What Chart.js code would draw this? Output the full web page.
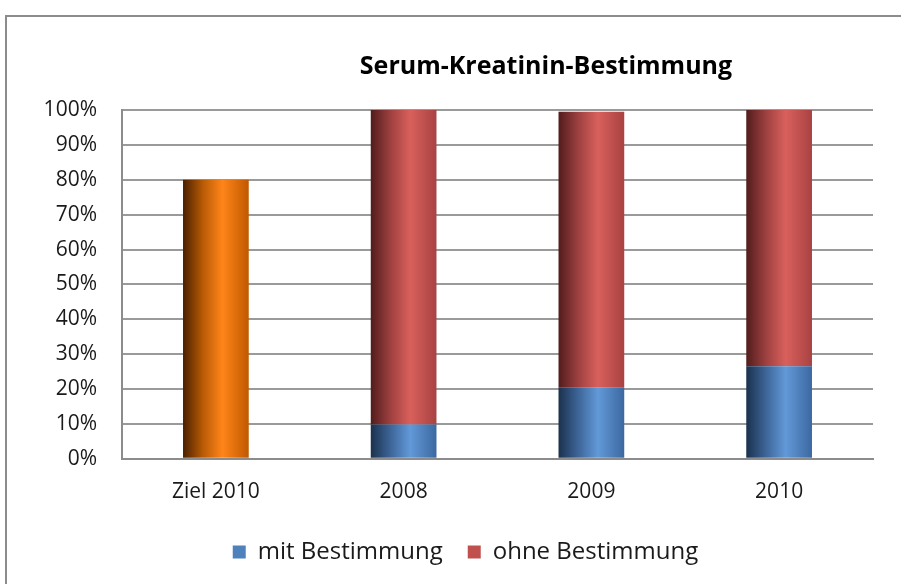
<!DOCTYPE html>
<html>
<head>
<meta charset="utf-8">
<script src="https://cdn.jsdelivr.net/npm/chart.js@4"></script>
<style>
    html, body { margin: 0; padding: 0; background: #fff; overflow: hidden; }
    #frame {
        position: absolute; left: 5px; top: 15px; width: 1000px; height: 700px;
        border-top: 2px solid #8c8c8c; border-left: 2px solid #8c8c8c;
    }
    #wrap { position: absolute; left: 0; top: 0; width: 901px; height: 584px; }
</style>
</head>
<body>
<div id="frame"></div>
<div id="wrap"><canvas id="chart" width="901" height="584"></canvas></div>
<script>
// Chart data
const categories = ["Ziel 2010", "2008", "2009", "2010"];
const zielValues = [80, null, null, null];
const mitValues = [null, 9.8, 20.5, 26.5];
const ohneValues = [null, 90.2, 79.0, 73.5];
const seriesNames = ["Ziel", "mit Bestimmung", "ohne Bestimmung"];
const legendColors = ["#f79646", "#4f81bd", "#c0504d"];

const chartTitle = "Serum-Kreatinin-Bestimmung";
const fontFamily = "'Open Sans', Lato, sans-serif";
const barShare = 0.35;

// horizontal shading like the office cylinder look
function barGradient(stops) {
    return function (c) {
        const chart = c.chart;
        const xs = chart.scales.x;
        if (c.type !== "data" || !xs) return stops[2];
        const w = (xs.right - xs.left) / categories.length * barShare;
        const cx = xs.getPixelForValue(c.dataIndex);
        if (!isFinite(w) || !isFinite(cx) || w <= 0) return stops[2];
        const g = chart.ctx.createLinearGradient(cx - w / 2, 0, cx + w / 2, 0);
        g.addColorStop(0, stops[0]);
        g.addColorStop(0.3, stops[1]);
        g.addColorStop(0.6, stops[2]);
        g.addColorStop(1, stops[3]);
        return g;
    };
}

// Title drawn a bit right of centre, like the original
const titlePlugin = {
    id: "offsetTitle",
    afterDraw(chart) {
        const ctx = chart.ctx;
        ctx.save();
        ctx.font = "bold 25px " + fontFamily;
        ctx.fillStyle = "#000";
        ctx.textAlign = "center";
        ctx.textBaseline = "middle";
        ctx.fillText(chartTitle, 546, 67);
        ctx.restore();
    }
};

const ctx = document.getElementById("chart");
new Chart(ctx, {
    type: "bar",
    data: {
        labels: categories,
        datasets: [
            {
                label: seriesNames[0],
                data: zielValues,
                backgroundColor: barGradient(["#4a2000", "#b85a06", "#ff8519", "#c05800"])
            },
            {
                label: seriesNames[1],
                data: mitValues,
                backgroundColor: barGradient(["#1b314d", "#3d6598", "#6299d8", "#3c68a0"])
            },
            {
                label: seriesNames[2],
                data: ohneValues,
                backgroundColor: barGradient(["#521c1c", "#9e4040", "#d9605c", "#a84242"])
            }
        ]
    },
    options: {
        responsive: false,
        animation: false,
        layout: { padding: { left: 30, right: 0, top: 110, bottom: 10 } },
        datasets: {
            bar: { categoryPercentage: barShare, barPercentage: 1, borderWidth: 0 }
        },
        scales: {
            x: {
                stacked: true,
                afterFit: (s) => { s.height -= 3; },
                grid: { display: false },
                border: { display: true, color: "#8c8c8c", width: 2 },
                ticks: { color: "#1a1a1a", font: { family: fontFamily, size: 21 }, padding: 13 }
            },
            y: {
                stacked: true,
                min: 0,
                max: 100,
                afterFit: (s) => { s.width = 92; },
                grid: { color: "#9a9a9a", lineWidth: 2, drawTicks: false },
                border: { display: true, color: "#8c8c8c", width: 2 },
                ticks: {
                    stepSize: 10,
                    padding: 25,
                    color: "#1a1a1a",
                    font: { family: fontFamily, size: 21 },
                    callback: (v) => v + "%"
                }
            },
            // spacer on the right so the plot ends where the original does
            yRight: {
                position: "right",
                display: true,
                afterFit: (s) => { s.width = 28; },
                grid: { display: false },
                border: { display: false },
                ticks: { display: false }
            }
        },
        plugins: {
            title: { display: false },
            tooltip: { enabled: false },
            legend: {
                position: "bottom",
                labels: {
                    boxWidth: 13,
                    boxHeight: 13,
                    padding: 25,
                    color: "#1a1a1a",
                    font: { family: fontFamily, size: 24 },
                    filter: (item) => item.datasetIndex !== 0,
                    generateLabels: (chart) => {
                        const items = Chart.defaults.plugins.legend.labels.generateLabels(chart);
                        items.forEach((it) => {
                            it.fillStyle = legendColors[it.datasetIndex];
                            it.strokeStyle = legendColors[it.datasetIndex];
                            it.lineWidth = 0;
                        });
                        return items;
                    }
                }
            }
        }
    },
    plugins: [titlePlugin]
});
</script>
</body>
</html>
